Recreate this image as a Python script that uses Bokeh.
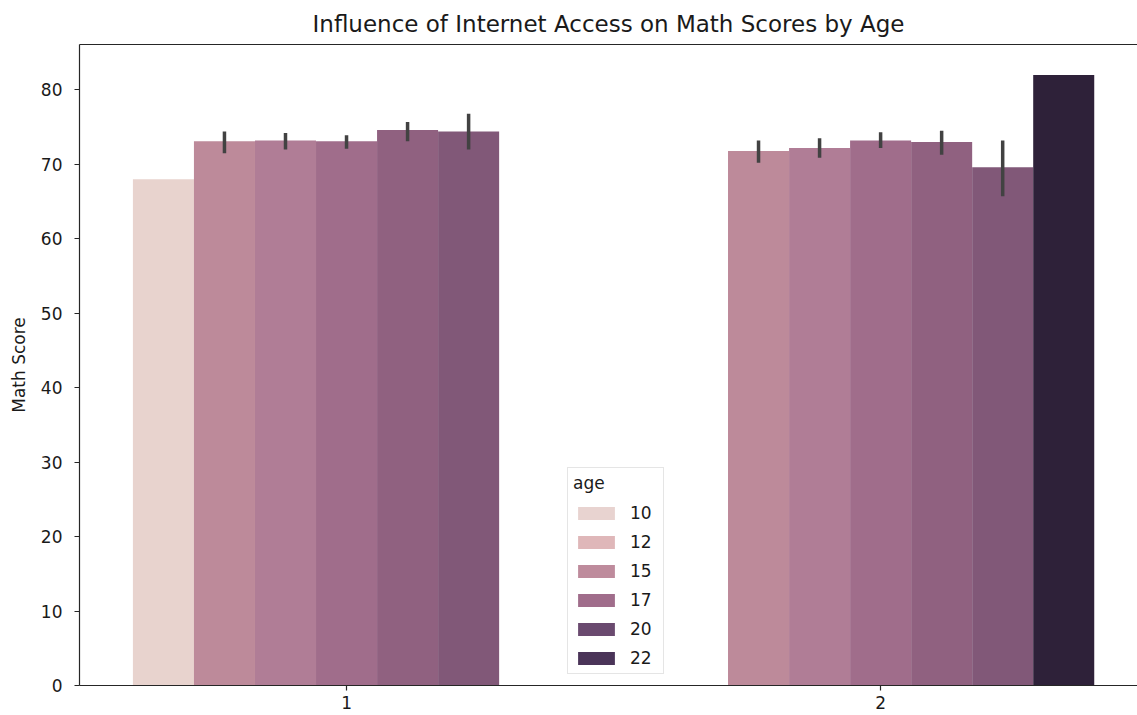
from bokeh.plotting import figure
from bokeh.models import (ColumnDataSource, FixedTicker, LinearAxis, Legend,
                          LegendItem, Range1d)
from bokeh.embed import file_html
from bokeh.resources import INLINE

# Internet access groups on the x axis and the age levels used for the hue
internet_levels = ["1", "2"]
age_levels = [10, 15, 16, 17, 18, 19, 22]
age_colors = ["#e8d3ce", "#bd8a9a", "#b07d96", "#a06d8b", "#906180", "#815878", "#2e2139"]

# Mean math score by age, internet access = 1 (with 95% CI bounds)
ages_1 = [10, 15, 16, 17, 18, 19]
mean_1 = [68.0, 73.1, 73.2, 73.1, 74.6, 74.4]
ci_low_1 = [None, 71.5, 72.0, 72.1, 73.1, 72.0]
ci_high_1 = [None, 74.4, 74.2, 73.9, 75.7, 76.8]

# Mean math score by age, internet access = 2
ages_2 = [15, 16, 17, 18, 19, 22]
mean_2 = [71.8, 72.2, 73.2, 73.0, 69.6, 82.0]
ci_low_2 = [70.2, 70.9, 72.2, 71.3, 65.7, None]
ci_high_2 = [73.2, 73.5, 74.3, 74.5, 73.2, None]

# Brief legend entries for the numeric hue
legend_ages = [10, 12, 15, 17, 20, 22]
legend_colors = ["#e8d3d0", "#dfb7b9", "#be8b9c", "#a06d8b", "#6a4a6f", "#4a3458"]

y_ticks = list(range(0, 81, 10))

FONT = "DejaVu Sans"
INK = "#262626"

n_levels = len(age_levels)
bar_w = 0.8 / n_levels


def dodge_x(group_idx, age):
    slot = age_levels.index(age)
    return group_idx + (slot - (n_levels - 1) / 2) * bar_w


bars = dict(x=[], top=[], color=[])
errs = dict(x=[], lo=[], hi=[])
groups = [(ages_1, mean_1, ci_low_1, ci_high_1), (ages_2, mean_2, ci_low_2, ci_high_2)]
for gi, (ages, means, lows, highs) in enumerate(groups):
    for a, m, lo, hi in zip(ages, means, lows, highs):
        x = dodge_x(gi, a)
        bars["x"].append(x)
        bars["top"].append(m)
        bars["color"].append(age_colors[age_levels.index(a)])
        if lo is not None:
            errs["x"].append(x)
            errs["lo"].append(lo)
            errs["hi"].append(hi)

p = figure(width=1137, height=715, output_backend="svg", toolbar_location=None,
           x_range=Range1d(-0.5, 1.481), y_range=Range1d(0, 86.1),
           min_border_left=79, min_border_right=0, min_border_top=44,
           min_border_bottom=30)
p.outline_line_color = None
p.background_fill_color = "white"
p.border_fill_color = "white"
p.xgrid.visible = False
p.ygrid.visible = False

p.title.text = "Influence of Internet Access on Math Scores by Age"
p.title.align = "center"
p.title.text_font = FONT
p.title.text_font_style = "normal"
p.title.text_font_size = "23px"
p.title.text_color = "#1a1a1a"
p.title.offset = 4
p.title.standoff = 15

p.vbar(x="x", top="top", width=bar_w, bottom=0, fill_color="color",
       line_color=None, source=ColumnDataSource(bars))
p.segment(x0="x", y0="lo", x1="x", y1="hi", line_color="#424242",
          line_width=3.5, line_cap="butt", source=ColumnDataSource(errs))

# axes
xa = p.xaxis[0]
xa.ticker = FixedTicker(ticks=list(range(len(internet_levels))))
xa.major_label_overrides = {i: lab for i, lab in enumerate(internet_levels)}
ya = p.yaxis[0]
ya.ticker = FixedTicker(ticks=y_ticks)
ya.axis_label = "Math Score"
for ax in (xa, ya):
    ax.axis_line_color = INK
    ax.axis_line_width = 1.2
    ax.major_tick_line_color = INK
    ax.major_tick_line_width = 1.2
    ax.major_tick_in = 0
    ax.major_tick_out = 5
    ax.minor_tick_line_color = None
    ax.major_label_text_font = FONT
    ax.major_label_text_font_size = "17px"
    ax.major_label_text_color = "#1a1a1a"
    ax.major_label_standoff = 5
ya.major_label_standoff = 12
ya.axis_label_text_font = FONT
ya.axis_label_text_font_size = "17px"
ya.axis_label_text_font_style = "normal"
ya.axis_label_text_color = "#1a1a1a"
ya.axis_label_standoff = 9

# top spine
top = LinearAxis(ticker=FixedTicker(ticks=[]), axis_line_color=INK, axis_line_width=1.2,
                 major_tick_line_color=None, minor_tick_line_color=None,
                 major_label_text_font_size="0px")
p.add_layout(top, "above")

# legend swatches: one row per entry, kept off the canvas (NaN position)
nan = float("nan")
leg_src = ColumnDataSource(dict(x=[nan] * len(legend_ages), top=[nan] * len(legend_ages),
                                color=legend_colors))
leg_r = p.vbar(x="x", top="top", width=bar_w, fill_color="color", line_color=None,
               source=leg_src)
items = [LegendItem(label=str(a), renderers=[leg_r], index=i)
         for i, a in enumerate(legend_ages)]
leg = Legend(items=items, location=(488, 11), title="age",
             title_text_font=FONT, title_text_font_size="17px",
             title_text_font_style="normal", title_text_color="#1a1a1a",
             title_standoff=10,
             label_text_font=FONT, label_text_font_size="17px",
             label_text_color="#1a1a1a", label_height=20, label_width=28,
             glyph_width=46, glyph_height=16, label_standoff=11,
             spacing=9, padding=5, margin=0,
             border_line_color="#cccccc", border_line_width=1,
             background_fill_color="white", background_fill_alpha=0.8)
p.add_layout(leg, "center")

open("out.html", "w").write(file_html(p, INLINE))
